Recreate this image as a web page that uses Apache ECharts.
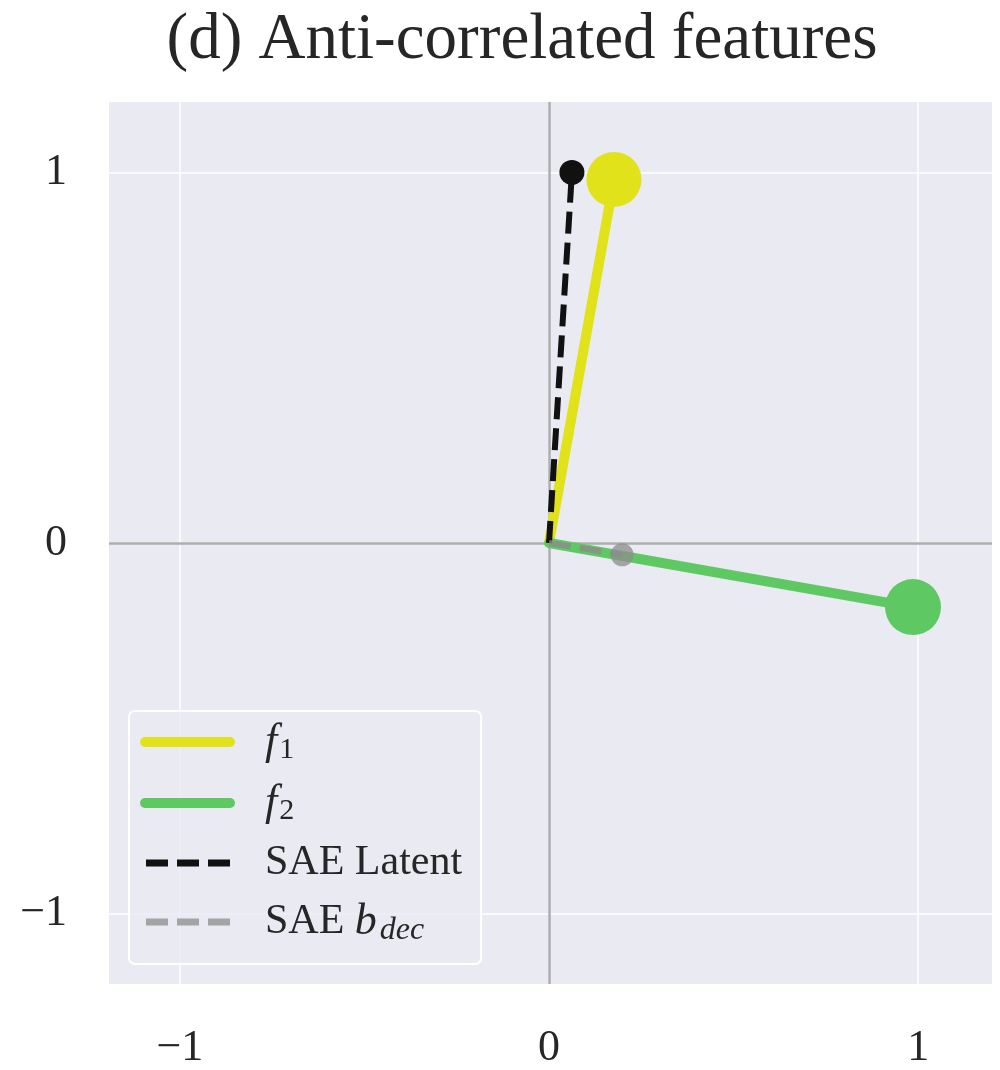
<!DOCTYPE html>
<html>
<head>
<meta charset="utf-8">
<script src="https://cdn.jsdelivr.net/npm/echarts@6/dist/echarts.min.js"></script>
<style>
  html, body { margin: 0; padding: 0; background: #fff; }
  #chart { width: 1000px; height: 1070px; }
</style>
</head>
<body>
<div id="chart"></div>
<script>
// feature / latent directions, drawn from the origin
var f1 = [[0, 0], [0.176, 0.981]];
var f2 = [[0, 0], [0.986, -0.173]];
var saeLatent = [[0, 0], [0.062, 1.0]];
var saeBdec = [[0, 0], [0.198, -0.032]];
var tickValues = [-1, 0, 1];
var legendNames = ['f1', 'f2', 'SAE Latent', 'SAE bdec'];

var serif = 'Liberation Serif';
var chart = echarts.init(document.getElementById('chart'));

function endMarker(pts, size) {
  return pts.map(function (p, i) {
    return { value: p, symbolSize: i === pts.length - 1 ? size : 0 };
  });
}

function tickFmt(v) { return v < 0 ? '\u2212' + Math.abs(v) : String(v); }

var solidIcon = 'path://M0,0M97,12M6,1h85a5,5 0 0 1 0,10h-85a5,5 0 0 1 0,-10z';
var dashIcon = 'path://M0,0M97,12M7,2.5h22v7h-22zM38,2.5h22v7h-22zM69,2.5h22v7h-22z';

chart.setOption({
  backgroundColor: '#fff',
  animation: false,
  title: {
    text: '(d) Anti-correlated features',
    left: 517, top: 3, textAlign: 'center',
    textStyle: { fontFamily: serif, fontWeight: 'normal', fontSize: 65, color: '#262626' }
  },
  grid: { left: 109, right: 8, top: 102, bottom: 86, show: true, backgroundColor: '#EAEAF2', borderWidth: 0 },
  xAxis: {
    type: 'value', min: -1.192, max: 1.2,
    axisLine: { show: false }, axisTick: { show: false, customValues: tickValues },
    axisLabel: {
      customValues: tickValues, margin: 42,
      fontFamily: serif, fontSize: 44, color: '#262626', formatter: tickFmt
    },
    splitLine: { show: true, lineStyle: { color: '#fff', width: 1.5 } }
  },
  yAxis: {
    type: 'value', min: -1.19, max: 1.19,
    axisLine: { show: false }, axisTick: { show: false, customValues: tickValues },
    axisLabel: {
      customValues: tickValues, margin: 42,
      fontFamily: serif, fontSize: 44, color: '#262626', formatter: tickFmt
    },
    splitLine: { show: true, lineStyle: { color: '#fff', width: 1.5 } }
  },
  legend: {
    left: 129, top: 711,
    orient: 'vertical',
    itemWidth: 97, itemHeight: 12, itemGap: 16,
    padding: [9, 19, 17, 10],
    backgroundColor: 'rgba(234,234,242,0.8)',
    borderColor: '#fff', borderWidth: 2, borderRadius: 6,
    textStyle: {
      fontFamily: serif, fontSize: 42, color: '#262626', padding: [0, 0, 0, 24],
      rich: {
        it: { fontFamily: serif, fontStyle: 'italic', fontSize: 44, color: '#262626' },
        sub: { fontFamily: serif, fontSize: 30, color: '#262626', padding: [16, 0, 0, 2] },
        subi: { fontFamily: serif, fontStyle: 'italic', fontSize: 32, color: '#262626', padding: [18, 0, 0, 3] },
        rm: { fontFamily: serif, fontSize: 42, color: '#262626', lineHeight: 52 }
      }
    },
    formatter: function (name) {
      if (name === 'f1') return '{it|f}{sub|1}';
      if (name === 'f2') return '{it|f}{sub|2}';
      if (name === 'SAE bdec') return '{rm|SAE }{it|b}{subi|dec}';
      return '{rm|' + name + '}';
    },
    data: [
      { name: legendNames[0], icon: solidIcon },
      { name: legendNames[1], icon: solidIcon },
      { name: legendNames[2], icon: dashIcon },
      { name: legendNames[3], icon: dashIcon }
    ]
  },
  series: [
    {
      name: legendNames[0], type: 'line', data: endMarker(f1, 55),
      symbol: 'circle', color: '#E1E21A',
      lineStyle: { width: 10, color: '#E1E21A', cap: 'round' },
      itemStyle: { color: '#E1E21A' },
      markLine: {
        silent: true, symbol: 'none', label: { show: false },
        lineStyle: { color: '#ADADAD', width: 2.5, type: 'solid' },
        data: [{ xAxis: 0 }, { yAxis: 0 }],
        z: 1
      },
      z: 3
    },
    {
      name: legendNames[1], type: 'line', data: endMarker(f2, 56),
      symbol: 'circle', color: '#5EC962',
      lineStyle: { width: 10, color: '#5EC962', cap: 'round' },
      itemStyle: { color: '#5EC962' },
      z: 3
    },
    {
      name: legendNames[2], type: 'line', data: endMarker(saeLatent, 25),
      symbol: 'circle', color: '#111',
      lineStyle: { width: 6, color: '#111', type: [22, 9] },
      itemStyle: { color: '#111', borderColor: '#111', borderWidth: 0 },
      z: 4
    },
    {
      name: legendNames[3], type: 'line', data: endMarker(saeBdec, 23),
      symbol: 'circle', color: '#999',
      lineStyle: { width: 6, color: 'rgba(140,140,140,0.8)', type: [22, 9] },
      itemStyle: { color: 'rgba(140,140,140,0.75)' },
      z: 4
    }
  ]
});
</script>
</body>
</html>
